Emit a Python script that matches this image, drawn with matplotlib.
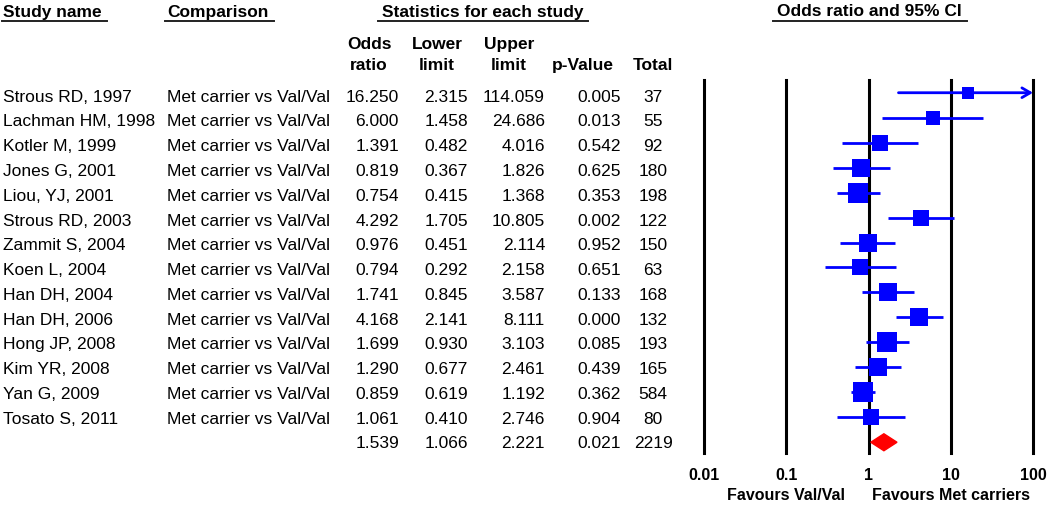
import matplotlib.pyplot as plt
import matplotlib.transforms as mtransforms
from matplotlib.patches import Polygon
from matplotlib.lines import Line2D
import numpy

plt.rcParams['font.family'] = ['Liberation Sans', 'DejaVu Sans']

#####################################################################
# data
studies = ["Strous RD, 1997", "Lachman HM, 1998", "Kotler M, 1999", "Jones G, 2001",
           "Liou, YJ, 2001", "Strous RD, 2003", "Zammit S, 2004", "Koen L, 2004",
           "Han DH, 2004", "Han DH, 2006", "Hong JP, 2008", "Kim YR, 2008",
           "Yan G, 2009", "Tosato S, 2011"]
comparison = "Met carrier vs Val/Val"
odds_ratio = [16.250, 6.000, 1.391, 0.819, 0.754, 4.292, 0.976, 0.794,
              1.741, 4.168, 1.699, 1.290, 0.859, 1.061]
lower = [2.315, 1.458, 0.482, 0.367, 0.415, 1.705, 0.451, 0.292,
         0.845, 2.141, 0.930, 0.677, 0.619, 0.410]
upper = [114.059, 24.686, 4.016, 1.826, 1.368, 10.805, 2.114, 2.158,
         3.587, 8.111, 3.103, 2.461, 1.192, 2.746]
p_values = [0.005, 0.013, 0.542, 0.625, 0.353, 0.002, 0.952, 0.651,
            0.133, 0.000, 0.085, 0.439, 0.362, 0.904]
totals = [37, 55, 92, 180, 198, 122, 150, 63, 168, 132, 193, 165, 584, 80]

pooled_or = 1.539
pooled_lower = 1.066
pooled_upper = 2.221
pooled_p = 0.021
pooled_total = 2219

ticks = [0.01, 0.1, 1, 10, 100]
tick_labels = ["0.01", "0.1", "1", "10", "100"]

#####################################################################
W, H = 1050, 505
FS = 12.5


def fx(x):
    return x / W


def fy(y):
    return 1 - y / H


def text_row_y(i):
    # baseline of table text, in pixels from the top
    return 101.7 + 24.76 * i


fig = plt.figure(figsize=(W / 100, H / 100), dpi=100)

# forest plot axes
ax = fig.add_axes([fx(704), fy(453), (1033 - 704) / W, (453 - 80) / H])
ax.set_xscale('log')
ax.set_xlim(0.01, 100)
ax.set_ylim(14.43, -0.51)
ax.axis('off')

for t in ticks:
    ax.axvline(t, color='black', lw=2.2, clip_on=False, zorder=1)

for i in range(len(studies)):
    w = 1.0 / ((numpy.log(upper[i]) - numpy.log(lower[i])) / 3.92) ** 2
    side = min(12 + 3 * numpy.log(w), 20) * 0.72
    if upper[i] > 100:
        ax.annotate('', xy=(100, i), xytext=(lower[i], i),
                    arrowprops=dict(arrowstyle='->,head_length=0.6,head_width=0.35',
                                    color='blue', lw=2.0, shrinkA=0, shrinkB=0),
                    zorder=2)
    else:
        ax.plot([lower[i], upper[i]], [i, i], color='blue', lw=2.0,
                solid_capstyle='butt', zorder=2)
    ax.plot(odds_ratio[i], i, marker='s', ms=side, color='blue', mew=0, zorder=3)

pr = len(studies)
diamond = Polygon([(pooled_lower, pr), (pooled_or, pr - 0.34),
                   (pooled_upper, pr), (pooled_or, pr + 0.34)],
                  closed=True, color='red', zorder=3)
ax.add_patch(diamond)

# bottom axis labels
bt = mtransforms.blended_transform_factory(ax.transData, fig.transFigure)
for t, lab in zip(ticks, tick_labels):
    ax.text(t, fy(480), lab, transform=bt, ha='center', va='baseline',
            fontsize=11.5, fontweight='bold', clip_on=False)
ax.text(0.1, fy(500), "Favours Val/Val", transform=bt, ha='center', va='baseline',
        fontsize=11.5, fontweight='bold', clip_on=False)
ax.text(10, fy(500), "Favours Met carriers", transform=bt, ha='center', va='baseline',
        fontsize=11.5, fontweight='bold', clip_on=False)

# headers
fig.text(fx(3), fy(16.5), "Study name", fontsize=FS, fontweight='bold', va='baseline')
fig.text(fx(167), fy(16.5), "Comparison", fontsize=FS, fontweight='bold', va='baseline')
fig.text(fx(483), fy(16.5), "Statistics for each study", fontsize=FS, fontweight='bold',
         ha='center', va='baseline')
fig.text(fx(869), fy(16.5), "Odds ratio and 95% CI", fontsize=FS, fontweight='bold',
         ha='center', va='baseline')
for x0, x1 in [(2, 107), (165, 274), (378, 588), (773, 967)]:
    fig.add_artist(Line2D([fx(x0), fx(x1)], [fy(21), fy(21)], color='#222222', lw=1.4))

for xc, top, bottom in [(369, "Odds", "ratio"), (437, "Lower", "limit"), (509, "Upper", "limit")]:
    fig.text(fx(xc), fy(49), top, fontsize=FS, fontweight='bold', ha='center', va='baseline')
    fig.text(fx(xc), fy(70), bottom, fontsize=FS, fontweight='bold', ha='center', va='baseline')
fig.text(fx(583), fy(70), "p-Value", fontsize=FS, fontweight='bold', ha='center', va='baseline')
fig.text(fx(653), fy(70), "Total", fontsize=FS, fontweight='bold', ha='center', va='baseline')


# table rows
def table_row(i, name, comp, o, lo, up, p, n):
    y = fy(text_row_y(i))
    fig.text(fx(3), y, name, fontsize=FS, va='baseline')
    fig.text(fx(167), y, comp, fontsize=FS, va='baseline')
    fig.text(fx(399), y, "%.3f" % o, fontsize=FS, ha='right', va='baseline')
    fig.text(fx(468), y, "%.3f" % lo, fontsize=FS, ha='right', va='baseline')
    fig.text(fx(545), y, "%.3f" % up, fontsize=FS, ha='right', va='baseline')
    fig.text(fx(621), y, "%.3f" % p, fontsize=FS, ha='right', va='baseline')
    fig.text(fx(653), y, str(n), fontsize=FS, ha='center', va='baseline')


for i in range(len(studies)):
    table_row(i, studies[i], comparison, odds_ratio[i], lower[i], upper[i],
              p_values[i], totals[i])
table_row(len(studies), "", "", pooled_or, pooled_lower, pooled_upper, pooled_p, pooled_total)

fig.savefig("out.png", dpi=100)
